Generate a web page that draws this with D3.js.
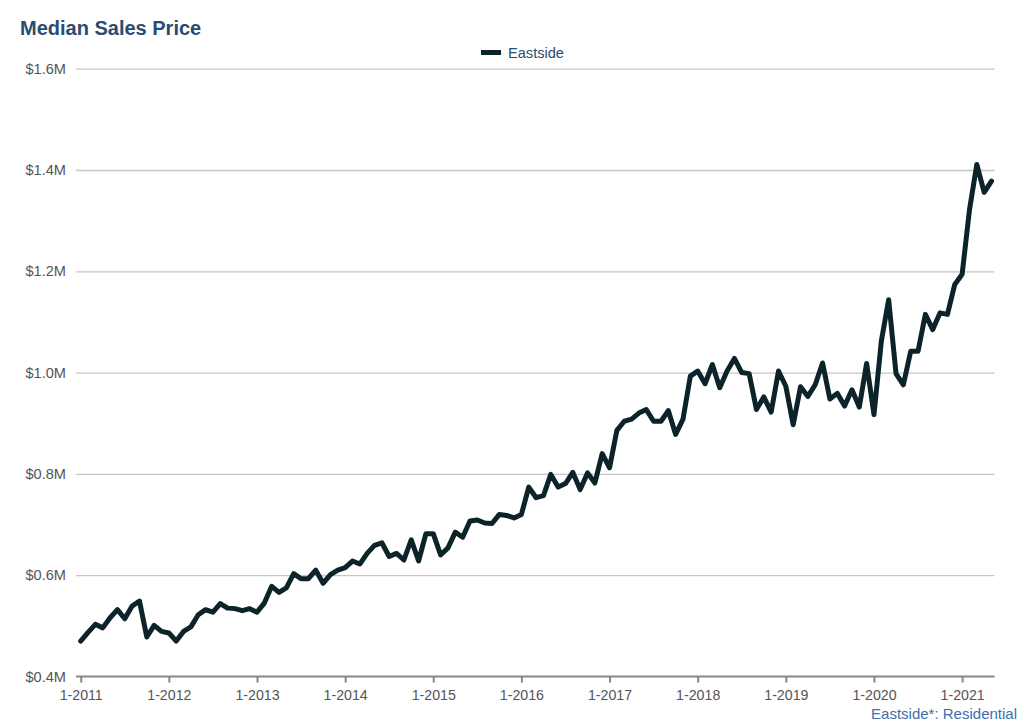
<!DOCTYPE html>
<html>
<head>
<meta charset="utf-8">
<script src="https://cdn.jsdelivr.net/npm/d3@7"></script>
<style>
  html, body { margin: 0; padding: 0; background: #fff; }
  svg { display: block; font-family: "Liberation Sans", Arial, Helvetica, sans-serif; }
</style>
</head>
<body>
<svg id="chart" width="1024" height="724"></svg>
<script>
// ---- Data ----
const startYear = 2011;
const startMonth = 1;
const seriesName = "Eastside";
const medianPrice = [
  0.470, 0.487, 0.503, 0.496, 0.516, 0.532, 0.514, 0.539, 0.549, 0.478, 0.501, 0.489,
  0.486, 0.470, 0.489, 0.498, 0.522, 0.532, 0.527, 0.544, 0.535, 0.534, 0.530, 0.534,
  0.527, 0.545, 0.578, 0.566, 0.575, 0.603, 0.593, 0.593, 0.610, 0.584, 0.601, 0.610,
  0.615, 0.628, 0.622, 0.643, 0.659, 0.664, 0.637, 0.643, 0.630, 0.670, 0.628, 0.682,
  0.682, 0.640, 0.654, 0.685, 0.675, 0.707, 0.709, 0.703, 0.702, 0.720, 0.718, 0.713,
  0.720, 0.774, 0.753, 0.757, 0.799, 0.774, 0.781, 0.803, 0.769, 0.802, 0.782, 0.840,
  0.812, 0.886, 0.904, 0.908, 0.920, 0.927, 0.904, 0.904, 0.925, 0.878, 0.908, 0.993,
  1.003, 0.978, 1.016, 0.970, 1.003, 1.028, 1.000, 0.998, 0.927, 0.952, 0.922, 1.003,
  0.973, 0.897, 0.972, 0.953, 0.976, 1.019, 0.948, 0.959, 0.934, 0.966, 0.932, 1.018,
  0.917, 1.062, 1.144, 0.998, 0.976, 1.042, 1.042, 1.115, 1.085, 1.118, 1.115, 1.174,
  1.194, 1.321, 1.411, 1.356, 1.378
]; // millions USD
const yTicks = [0.4, 0.6, 0.8, 1.0, 1.2, 1.4, 1.6];
const xTickYears = [2011, 2012, 2013, 2014, 2015, 2016, 2017, 2018, 2019, 2020, 2021];
const titleText = "Median Sales Price";
const footerText = "Eastside*: Residential";

// ---- Chart ----
const svg = d3.select("#chart");
const lineColor = "#0b2329";
const titleColor = "#2b4c71";

const data = medianPrice.map((v, i) => ({ i, v }));

const x = d3.scaleLinear()
  .domain([0, medianPrice.length - 1])
  .range([80.7, 991.5]);
const xEnd = 994.5;
const y = d3.scaleLinear()
  .domain([0.4, 1.6])
  .range([676.5, 68.7]);

// title
svg.append("text")
  .attr("x", 20).attr("y", 35)
  .attr("font-size", 20).attr("font-weight", "bold")
  .attr("fill", titleColor)
  .text(titleText);

// legend
svg.append("line")
  .attr("x1", 481).attr("x2", 501)
  .attr("y1", 52.5).attr("y2", 52.5)
  .attr("stroke", lineColor).attr("stroke-width", 5);
svg.append("text")
  .attr("x", 508).attr("y", 58)
  .attr("font-size", 14.6).attr("fill", titleColor)
  .text(seriesName);

// gridlines + y labels
const yAxis = d3.axisLeft(y)
  .tickValues(yTicks)
  .tickSize(-(xEnd - 76))
  .tickPadding(10)
  .tickFormat(d => "$" + d3.format(".1f")(d) + "M");
const gy = svg.append("g")
  .attr("transform", "translate(76,0)")
  .call(yAxis);
gy.select(".domain").remove();
gy.selectAll(".tick line")
  .attr("stroke", "#c6c6c6").attr("stroke-width", 1.3);
gy.selectAll(".tick text")
  .attr("font-size", 14.6).attr("fill", "#555")
  .attr("font-family", "Liberation Sans, Arial, sans-serif");
gy.selectAll(".tick").filter(d => d === 0.4).select("line").remove();

// x axis
const xAxis = d3.axisBottom(x)
  .tickValues(xTickYears.map(yr => (yr - startYear) * 12))
  .tickSize(6)
  .tickPadding(7)
  .tickFormat(d => "1-" + (startYear + d / 12));
const gx = svg.append("g")
  .attr("transform", `translate(0,${y(0.4)})`)
  .call(xAxis);
gx.select(".domain").remove();
gx.append("line")
  .attr("x1", 76).attr("x2", xEnd)
  .attr("y1", 0).attr("y2", 0)
  .attr("stroke", "#888").attr("stroke-width", 2);
gx.selectAll(".tick line").attr("stroke", "#888").attr("stroke-width", 2);
gx.selectAll(".tick text")
  .attr("font-size", 14.2).attr("fill", "#555")
  .attr("font-family", "Liberation Sans, Arial, sans-serif");

// line
const line = d3.line()
  .x(d => x(d.i))
  .y(d => y(d.v))
  .curve(d3.curveLinear);
svg.append("path")
  .datum(data)
  .attr("fill", "none")
  .attr("stroke", lineColor)
  .attr("stroke-width", 5)
  .attr("stroke-linejoin", "round")
  .attr("stroke-linecap", "round")
  .attr("d", line);

// footer
svg.append("text")
  .attr("x", 1017).attr("y", 719)
  .attr("text-anchor", "end")
  .attr("font-size", 15).attr("fill", "#3d6fae")
  .text(footerText);
</script>
</body>
</html>
